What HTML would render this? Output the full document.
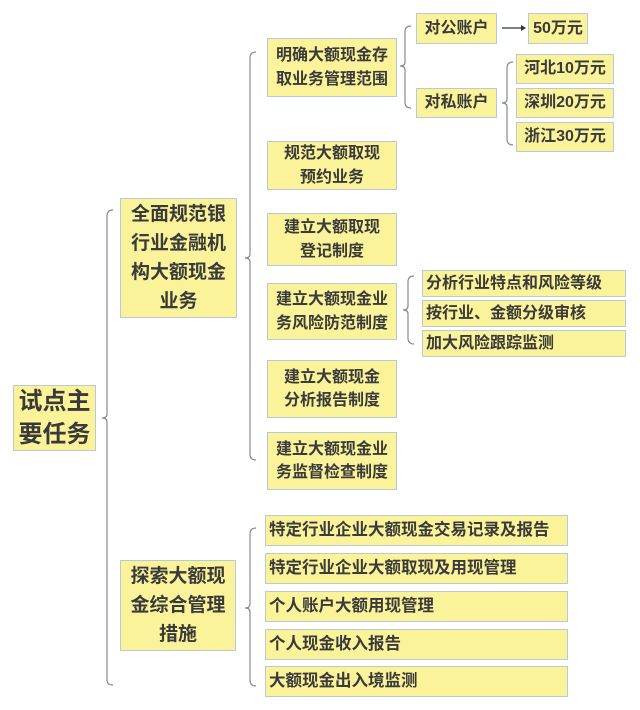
<!DOCTYPE html>
<html><head><meta charset="utf-8"><style>
body{margin:0;width:640px;height:710px;background:#fff;position:relative;overflow:hidden;font-family:"Liberation Sans","Noto Sans CJK SC",sans-serif;font-weight:bold;color:#3a3a3a}
.b{position:absolute;background:#fbf39a;border:1px solid #b9c9d6;box-sizing:border-box;display:flex;align-items:center;justify-content:center;text-align:center;line-height:1.45}
.l{justify-content:flex-start;padding-left:3px;text-align:left}
svg{position:absolute;left:0;top:0}
</style></head><body>
<svg width="640" height="710" fill="none" stroke="#8a8a8a" stroke-width="1.2">
<path d="M113 210 Q107 210 107 216 L107 414 Q107 418 102 418 Q107 418 107 422 L107 680 Q107 685 113 685"/>
<path d="M256 52 Q250 52 250 58 L250 254 Q250 258 245 258 Q250 258 250 262 L250 454 Q250 460 256 460"/>
<path d="M256 528 Q250 528 250 534 L250 604 Q250 608 245 608 Q250 608 250 612 L250 680 Q250 686 256 686"/>
<path d="M411 26 Q405 26 405 32 L405 62 Q405 66 400 66 Q405 66 405 70 L405 102 Q405 108 411 108"/>
<path d="M513 62 Q507 62 507 68 L507 99 Q507 103 502 103 Q507 103 507 107 L507 139 Q507 145 513 145"/>
<path d="M414 276 Q408 276 408 282 L408 306 Q408 310 403 310 Q408 310 408 314 L408 338 Q408 344 414 344"/>
<path d="M502 28 L522 28" stroke="#333"/>
<path d="M521 25 L526 28 L521 31 Z" fill="#333" stroke="none"/>
</svg>
<div class="b" style="left:13px;top:385px;width:83px;height:66px;font-size:24px;line-height:33px">试点主<br>要任务</div>
<div class="b" style="left:120px;top:198px;width:117px;height:120px;font-size:19px;line-height:29px">全面规范银<br>行业金融机<br>构大额现金<br>业务</div>
<div class="b" style="left:120px;top:560px;width:116px;height:91px;font-size:19px;line-height:29px">探索大额现<br>金综合管理<br>措施</div>
<div class="b" style="left:267px;top:38px;width:130px;height:59px;font-size:16px">明确大额现金存<br>取业务管理范围</div>
<div class="b" style="left:267px;top:141px;width:130px;height:49px;font-size:16px">规范大额取现<br>预约业务</div>
<div class="b" style="left:267px;top:213px;width:130px;height:53px;font-size:16px">建立大额取现<br>登记制度</div>
<div class="b" style="left:267px;top:283px;width:130px;height:57px;font-size:16px">建立大额现金业<br>务风险防范制度</div>
<div class="b" style="left:267px;top:360px;width:130px;height:58px;font-size:16px">建立大额现金<br>分析报告制度</div>
<div class="b" style="left:267px;top:432px;width:130px;height:58px;font-size:16px">建立大额现金业<br>务监督检查制度</div>
<div class="b" style="left:416px;top:13px;width:81px;height:31px;font-size:16px">对公账户</div>
<div class="b" style="left:528px;top:13px;width:60px;height:31px;font-size:16px">50万元</div>
<div class="b" style="left:416px;top:88px;width:81px;height:30px;font-size:16px">对私账户</div>
<div class="b" style="left:516px;top:54px;width:98px;height:30px;font-size:16px">河北10万元</div>
<div class="b" style="left:516px;top:88px;width:98px;height:30px;font-size:16px">深圳20万元</div>
<div class="b" style="left:516px;top:122px;width:98px;height:30px;font-size:16px">浙江30万元</div>
<div class="b l" style="left:422px;top:270px;width:204px;height:27px;font-size:16px">分析行业特点和风险等级</div>
<div class="b l" style="left:422px;top:300px;width:204px;height:27px;font-size:16px">按行业、金额分级审核</div>
<div class="b l" style="left:422px;top:330px;width:204px;height:27px;font-size:16px">加大风险跟踪监测</div>
<div class="b l" style="left:265px;top:515px;width:303px;height:31px;font-size:16.5px">特定行业企业大额现金交易记录及报告</div>
<div class="b l" style="left:265px;top:553px;width:303px;height:31px;font-size:16.5px">特定行业企业大额取现及用现管理</div>
<div class="b l" style="left:265px;top:591px;width:303px;height:31px;font-size:16.5px">个人账户大额用现管理</div>
<div class="b l" style="left:265px;top:629px;width:303px;height:31px;font-size:16.5px">个人现金收入报告</div>
<div class="b l" style="left:265px;top:666px;width:303px;height:31px;font-size:16.5px">大额现金出入境监测</div>
</body></html>
